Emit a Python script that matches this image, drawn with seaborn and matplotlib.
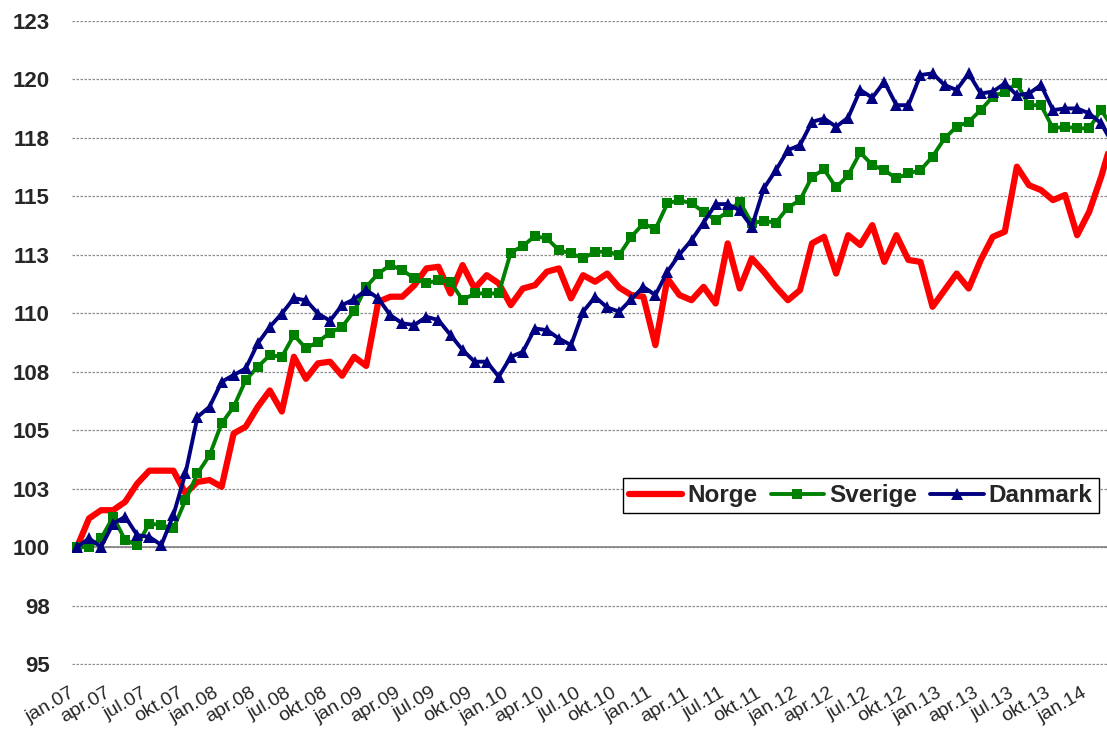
import matplotlib
matplotlib.use("Agg")
import matplotlib.pyplot as plt
from matplotlib.transforms import ScaledTranslation
import seaborn as sns
import pandas as pd

# monthly index, jan.07 -> mar.14 (100 = jan.07)
norge = [100.0, 101.23, 101.58, 101.58, 101.94, 102.72, 103.27, 103.27, 103.27, 102.30,
         102.79, 102.87, 102.58, 104.86, 105.15, 106.0, 106.7, 105.8, 108.14, 107.2,
         107.86, 107.93, 107.33, 108.14, 107.75, 110.49, 110.71, 110.71, 111.2, 111.92,
         111.99, 110.85, 112.06, 111.06, 111.63, 111.28, 110.35, 111.06, 111.2, 111.78,
         111.92, 110.64, 111.63, 111.35, 111.7, 111.1, 110.78, 110.71, 108.64, 111.49,
         110.78, 110.56, 111.13, 110.42, 112.99, 111.06, 112.35, 111.78, 111.13, 110.56,
         110.99, 112.99, 113.27, 111.7, 113.34, 112.92, 113.77, 112.2, 113.34, 112.28,
         112.2, 110.28, 110.99, 111.7, 111.06, 112.28, 113.27, 113.49, 116.27, 115.48,
         115.27, 114.84, 115.06, 113.34, 114.34, 115.84, 117.6]

sverige = [100.0, 100.0, 100.37, 101.3, 100.3, 100.09, 101.01, 100.94, 100.8, 102.01,
           103.15, 103.93, 105.29, 106.0, 107.14, 107.71, 108.21, 108.14, 109.07, 108.5,
           108.78, 109.17, 109.42, 110.1, 111.13, 111.7, 112.06, 111.85, 111.49, 111.28,
           111.42, 111.35, 110.56, 110.85, 110.85, 110.85, 112.6, 112.88, 113.3, 113.2,
           112.7, 112.56, 112.35, 112.63, 112.63, 112.5, 113.27, 113.84, 113.6, 114.7,
           114.84, 114.7, 114.34, 113.99, 114.34, 114.77, 113.85, 113.95, 113.88, 114.52,
           114.84, 115.84, 116.15, 115.38, 115.91, 116.88, 116.34, 116.12, 115.77, 115.98,
           116.12, 116.7, 117.48, 117.98, 118.19, 118.69, 119.26, 119.48, 119.83, 118.9,
           118.9, 117.91, 117.98, 117.91, 117.91, 118.69, 117.9]

danmark = [100.0, 100.37, 100.01, 101.01, 101.3, 100.51, 100.44, 100.09, 101.37, 103.15,
           105.57, 106.0, 107.07, 107.36, 107.64, 108.71, 109.42, 109.99, 110.64, 110.56,
           109.99, 109.68, 110.35, 110.6, 111.0, 110.64, 109.92, 109.57, 109.5, 109.85,
           109.71, 109.07, 108.43, 107.93, 107.93, 107.29, 108.14, 108.35, 109.35, 109.28,
           108.92, 108.64, 110.07, 110.7, 110.25, 110.07, 110.6, 111.13, 110.78, 111.78,
           112.52, 113.13, 113.88, 114.67, 114.67, 114.4, 113.7, 115.34, 116.12, 116.98,
           117.19, 118.19, 118.33, 117.98, 118.37, 119.55, 119.22, 119.9, 118.9, 118.9,
           120.19, 120.26, 119.76, 119.55, 120.26, 119.4, 119.48, 119.83, 119.33, 119.4,
           119.76, 118.69, 118.76, 118.76, 118.55, 118.12, 117.2]

x_labels = ["jan.07", "apr.07", "jul.07", "okt.07", "jan.08", "apr.08", "jul.08", "okt.08",
            "jan.09", "apr.09", "jul.09", "okt.09", "jan.10", "apr.10", "jul.10", "okt.10",
            "jan.11", "apr.11", "jul.11", "okt.11", "jan.12", "apr.12", "jul.12", "okt.12",
            "jan.13", "apr.13", "jul.13", "okt.13", "jan.14"]

y_ticks = [95, 97.5, 100, 102.5, 105, 107.5, 110, 112.5, 115, 117.5, 120, 122.5]
y_labels = ["95", "98", "100", "103", "105", "108", "110", "113", "115", "118", "120", "123"]

df = pd.DataFrame({"Norge": norge, "Sverige": sverige, "Danmark": danmark})
df["mnd"] = range(len(df))

sns.set_theme(style="white")
plt.rcParams["font.family"] = ["Liberation Sans", "DejaVu Sans"]

fig = plt.figure(figsize=(11.07, 7.29), dpi=100)
ax = fig.add_axes([72 / 1107, 64 / 729, 1 - 72 / 1107, 644 / 729])

ax.yaxis.grid(True, color="#8c8c8c", linestyle=(0, (2, 1.2)), linewidth=0.9)
ax.set_axisbelow(True)
ax.axhline(100, color="#808080", linewidth=1.2, zorder=1)

sns.lineplot(data=df, x="mnd", y="Norge", color="#ff0000", linewidth=4.5,
             label="Norge", ax=ax, zorder=3)
sns.lineplot(data=df, x="mnd", y="Sverige", color="#008000", linewidth=2.8,
             marker="s", markersize=7.5, markeredgewidth=0, label="Sverige", ax=ax, zorder=4)
sns.lineplot(data=df, x="mnd", y="Danmark", color="#000080", linewidth=2.8,
             marker="^", markersize=8.5, markeredgewidth=0, label="Danmark", ax=ax, zorder=5)

ax.set_xlim(-0.415, 85.48)
ax.set_ylim(94.96, 122.5)
ax.set_yticks(y_ticks)
ax.set_yticklabels(y_labels, fontsize=16, fontweight="bold")
ax.set_xticks(range(0, 3 * len(x_labels), 3))
ax.set_xticklabels(x_labels, fontsize=14, rotation=30, ha="right",
                   rotation_mode="anchor")
ax.tick_params(axis="y", length=0, pad=16)
ax.tick_params(axis="x", length=0, pad=14)
shift = ScaledTranslation(-8 / 100, 0, fig.dpi_scale_trans)
for lab in ax.get_xticklabels():
    lab.set_transform(lab.get_transform() + shift)
ax.set_xlabel("")
ax.set_ylabel("")
for s in ax.spines.values():
    s.set_visible(False)

leg = ax.legend(loc="center", bbox_to_anchor=(0.762, 0.263), ncol=3, frameon=True,
                fancybox=False, edgecolor="black", framealpha=1,
                prop={"size": 17.5, "weight": "bold"}, handlelength=2.2,
                handletextpad=0.2, columnspacing=0.55, borderpad=0.25,
                borderaxespad=0)
leg.get_frame().set_linewidth(1.0)

fig.savefig("out.png", dpi=100)
